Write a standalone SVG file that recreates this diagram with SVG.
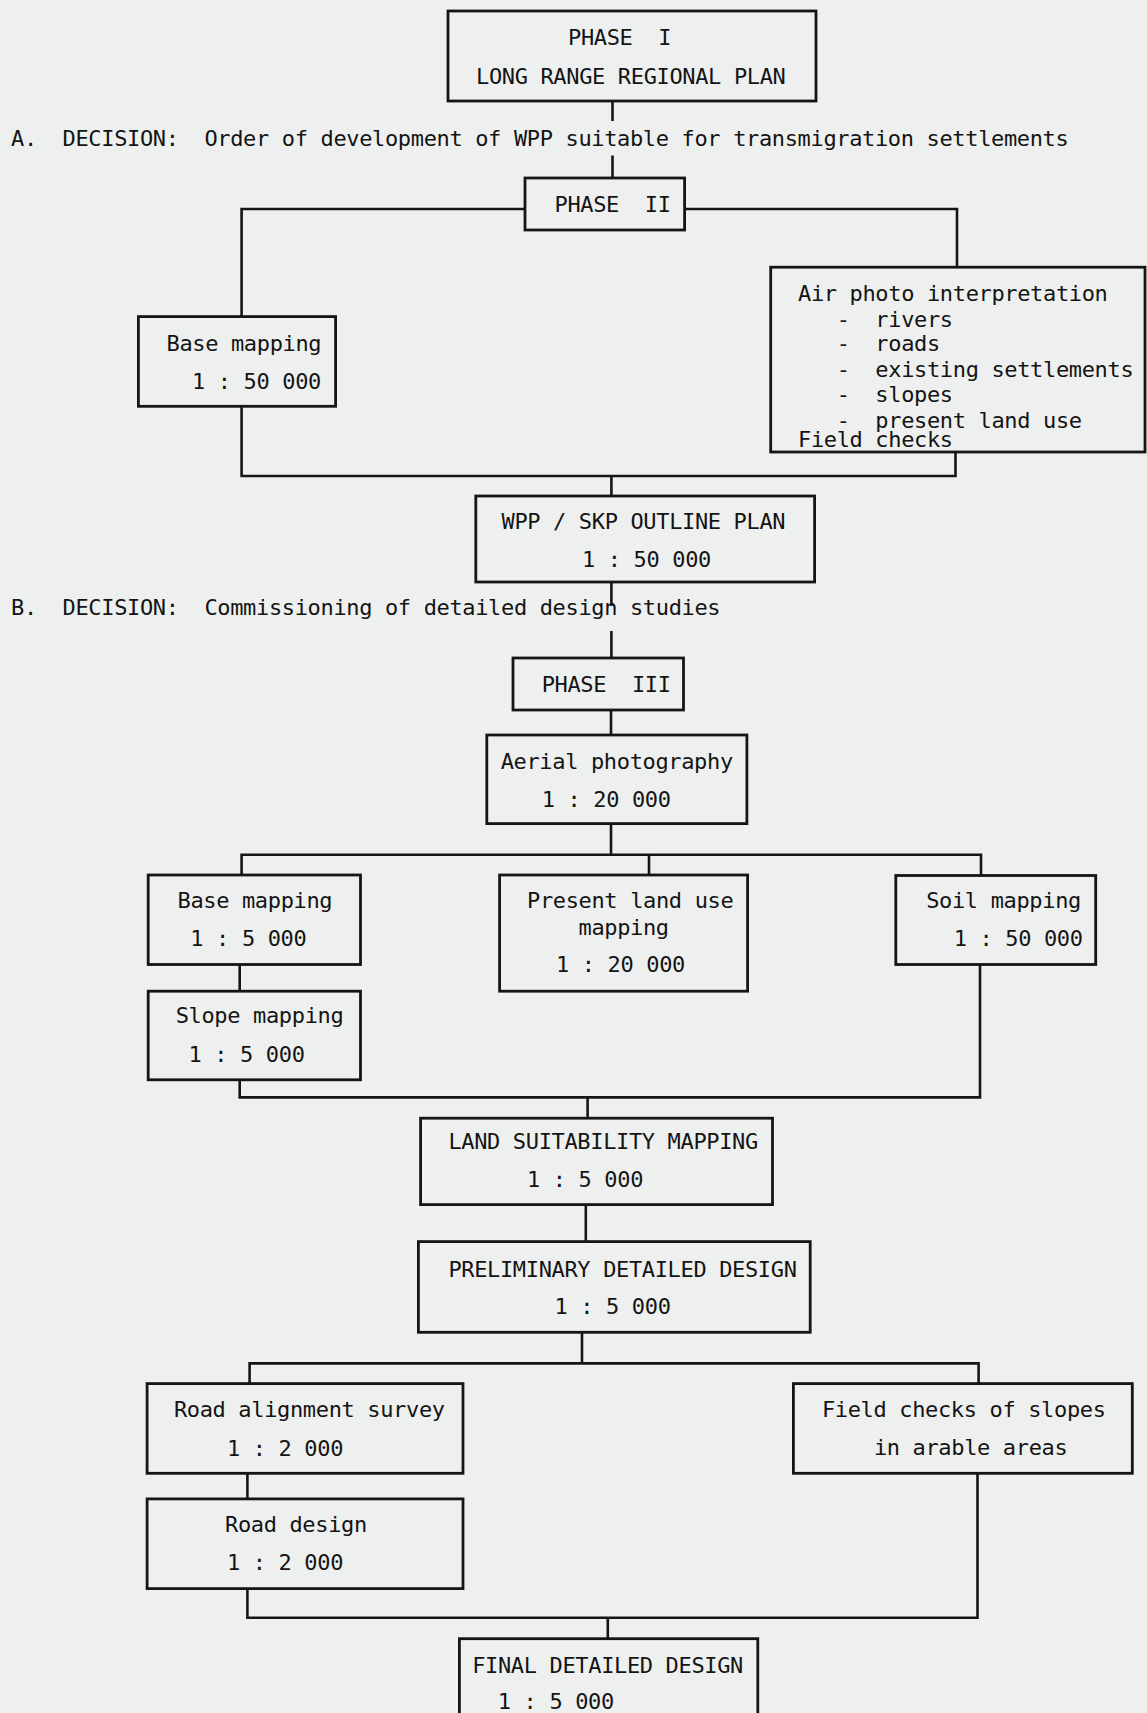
<svg xmlns="http://www.w3.org/2000/svg" width="1147" height="1713" viewBox="0 0 1147 1713" xml:space="preserve">
<style>
  .bg { fill: #eef0ef; }
  .box { fill: none; stroke: #151515; stroke-width: 2.8; }
  .conn { fill: none; stroke: #151515; stroke-width: 2.6; }
  text { font-family: "DejaVu Sans Mono", "Liberation Mono", monospace; font-size: 22px; letter-spacing: -0.35px; fill: #141414; white-space: pre; }
</style>
<rect class="bg" x="0" y="0" width="1147" height="1713"/>

<g id="connectors">
  <path class="conn" d="M612.5 101 V121"/>
  <path class="conn" d="M612.5 155.5 V178"/>
  <path class="conn" d="M241.6 316.6 V209 H525"/>
  <path class="conn" d="M684.6 209 H957 V267.2"/>
  <path class="conn" d="M241.6 406.3 V476 H955.5 V452"/>
  <path class="conn" d="M611.4 476 V496"/>
  <path class="conn" d="M611.4 582 V606"/>
  <path class="conn" d="M611.4 631 V658"/>
  <path class="conn" d="M611 710 V735"/>
  <path class="conn" d="M611 823.6 V854.7"/>
  <path class="conn" d="M241.6 875 V854.7 H981 V875.5"/>
  <path class="conn" d="M649 854.7 V875"/>
  <path class="conn" d="M239.7 964.5 V991.2"/>
  <path class="conn" d="M239.7 1079.8 V1097.4 H980 V964.5"/>
  <path class="conn" d="M587.6 1097.4 V1118.2"/>
  <path class="conn" d="M585.8 1204.6 V1241.6"/>
  <path class="conn" d="M582 1332.3 V1363.4"/>
  <path class="conn" d="M249.6 1383.6 V1363.4 H978.6 V1383.6"/>
  <path class="conn" d="M247.4 1473.3 V1498.9"/>
  <path class="conn" d="M247.4 1588.6 V1617.8 H977.5 V1473.3"/>
  <path class="conn" d="M607.8 1617.8 V1638.7"/>
</g>

<g id="phase1">
  <rect class="box" x="448" y="11" width="368" height="90"/>
  <text x="568" y="45">PHASE  I</text>
  <text x="476" y="83.5">LONG RANGE REGIONAL PLAN</text>
</g>

<g id="decisionA">
  <text x="11" y="146">A.  DECISION:  Order of development of WPP suitable for transmigration settlements</text>
</g>

<g id="phase2">
  <rect class="box" x="525" y="178" width="159.6" height="52"/>
  <text x="554.5" y="211.5">PHASE  II</text>
</g>

<g id="basemapping50k">
  <rect class="box" x="138.4" y="316.6" width="197.2" height="89.7"/>
  <text x="166.5" y="351">Base mapping</text>
  <text x="192" y="388.5">1 : 50 000</text>
</g>

<g id="airphoto">
  <rect class="box" x="770.7" y="267.2" width="374.3" height="184.8"/>
  <text x="798" y="301">Air photo interpretation</text>
  <text x="798" y="327">   -  rivers</text>
  <text x="798" y="351.4">   -  roads</text>
  <text x="798" y="377">   -  existing settlements</text>
  <text x="798" y="402">   -  slopes</text>
  <text x="798" y="427.5">   -  present land use</text>
  <text x="798" y="446.6">Field checks</text>
</g>

<g id="outlineplan">
  <rect class="box" x="475.8" y="496" width="338.8" height="86"/>
  <text x="501.5" y="529">WPP / SKP OUTLINE PLAN</text>
  <text x="582" y="567">1 : 50 000</text>
</g>

<g id="decisionB">
  <text x="11" y="615">B.  DECISION:  Commissioning of detailed design studies</text>
</g>

<g id="phase3">
  <rect class="box" x="513" y="658" width="170.5" height="52"/>
  <text x="541.7" y="692">PHASE  III</text>
</g>

<g id="aerial">
  <rect class="box" x="486.8" y="735" width="260.1" height="88.6"/>
  <text x="500.7" y="768.7">Aerial photography</text>
  <text x="541.7" y="807">1 : 20 000</text>
</g>

<g id="basemapping5k">
  <rect class="box" x="148.2" y="875" width="212.3" height="89.5"/>
  <text x="177.5" y="907.7">Base mapping</text>
  <text x="190.3" y="946">1 : 5 000</text>
</g>

<g id="presentlanduse">
  <rect class="box" x="499.6" y="875" width="248" height="116.2"/>
  <text x="527" y="907.7">Present land use</text>
  <text x="578.5" y="935">mapping</text>
  <text x="556" y="972">1 : 20 000</text>
</g>

<g id="soilmapping">
  <rect class="box" x="895.8" y="875.5" width="199.9" height="89"/>
  <text x="926.2" y="907.7">Soil mapping</text>
  <text x="953.7" y="946">1 : 50 000</text>
</g>

<g id="slopemapping">
  <rect class="box" x="148.2" y="991.2" width="212.3" height="88.6"/>
  <text x="175.7" y="1023">Slope mapping</text>
  <text x="188.5" y="1061.5">1 : 5 000</text>
</g>

<g id="landsuitability">
  <rect class="box" x="420.6" y="1118.2" width="351.9" height="86.4"/>
  <text x="448.4" y="1149">LAND SUITABILITY MAPPING</text>
  <text x="527" y="1186.7">1 : 5 000</text>
</g>

<g id="preliminary">
  <rect class="box" x="418.4" y="1241.6" width="391.8" height="90.7"/>
  <text x="448.4" y="1276.7">PRELIMINARY DETAILED DESIGN</text>
  <text x="554.5" y="1314">1 : 5 000</text>
</g>

<g id="roadalignment">
  <rect class="box" x="147.1" y="1383.6" width="315.9" height="89.7"/>
  <text x="173.9" y="1416.5">Road alignment survey</text>
  <text x="227" y="1456">1 : 2 000</text>
</g>

<g id="fieldchecks">
  <rect class="box" x="793.4" y="1383.6" width="338.9" height="89.7"/>
  <text x="821.9" y="1416.5">Field checks of slopes</text>
  <text x="873.9" y="1455">in arable areas</text>
</g>

<g id="roaddesign">
  <rect class="box" x="147.1" y="1498.9" width="315.9" height="89.7"/>
  <text x="225" y="1532">Road design</text>
  <text x="227" y="1570">1 : 2 000</text>
</g>

<g id="finaldesign">
  <rect class="box" x="459.4" y="1638.7" width="298.4" height="86.3"/>
  <text x="472.2" y="1672.7">FINAL DETAILED DESIGN</text>
  <text x="497.8" y="1709">1 : 5 000</text>
</g>
</svg>
